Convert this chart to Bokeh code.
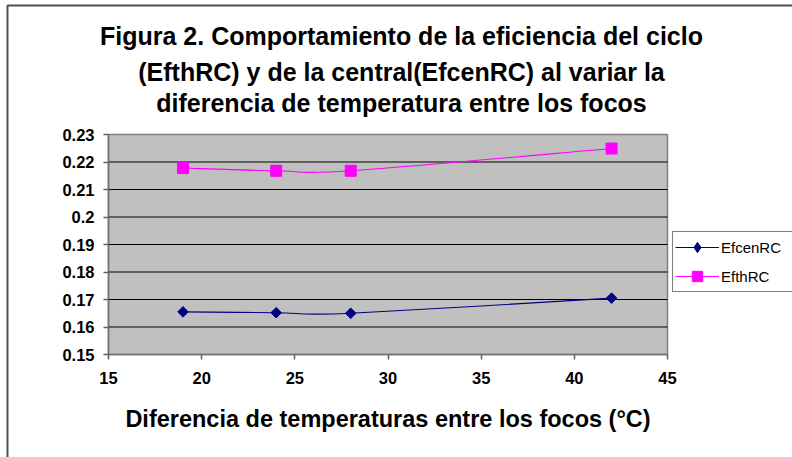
from bokeh.plotting import figure
from bokeh.models import (Range1d, FixedTicker, Label, Legend, LegendItem,
                          BoxAnnotation)
from bokeh.embed import file_html
from bokeh.resources import INLINE

# Temperature difference between the hot and cold sources (°C)
delta_t = [19, 24, 28, 42]
# Plant efficiency and cycle efficiency
efcen_rc = [0.1655, 0.1652, 0.1650, 0.1705]
efth_rc = [0.2178, 0.2168, 0.2168, 0.2249]

x_ticks = [15, 20, 25, 30, 35, 40, 45]
y_ticks = [0.15, 0.16, 0.17, 0.18, 0.19, 0.2, 0.21, 0.22, 0.23]
y_tick_labels = ["0.15", "0.16", "0.17", "0.18", "0.19", "0.2", "0.21", "0.22", "0.23"]

title_lines = [
    "Figura 2. Comportamiento de la eficiencia del ciclo",
    "(EfthRC) y de la central(EfcenRC) al variar la",
    "diferencia de temperatura entre los focos",
]
x_title = "Diferencia de temperaturas entre los focos (°C)"

FONT = "Liberation Sans"

# Canvas size and the pixel box of the plotting area inside it
W, H = 792, 457
AREA_L, AREA_R, AREA_T, AREA_B = 108, 667, 134, 354
x_lo, x_hi = x_ticks[0], x_ticks[-1]
y_lo, y_hi = y_ticks[0], y_ticks[-1]

# The frame covers the whole canvas; ranges are widened so the plotting
# area lands on its pixel box and everything else can be drawn around it.
ppx = (AREA_R - AREA_L) / (x_hi - x_lo)
ppy = (AREA_B - AREA_T) / (y_hi - y_lo)
x_range = Range1d(x_lo - AREA_L / ppx, x_hi + (W - AREA_R) / ppx)
y_range = Range1d(y_lo - (H - AREA_B) / ppy, y_hi + AREA_T / ppy)

p = figure(width=W, height=H, output_backend="svg", toolbar_location=None,
           x_range=x_range, y_range=y_range,
           min_border=0, min_border_left=0, min_border_right=0,
           min_border_top=0, min_border_bottom=0)
p.background_fill_color = "white"
p.border_fill_color = "white"
p.outline_line_color = None
p.xgrid.visible = False
p.ygrid.visible = False

# Grey plotting area with its thin border
p.add_layout(BoxAnnotation(left=x_lo, right=x_hi, bottom=y_lo, top=y_hi,
                           fill_color="#C0C0C0", fill_alpha=1,
                           line_color="#808080", line_alpha=1, line_width=1.5,
                           level="underlay"))

# Horizontal grid lines at the inner ticks
inner = y_ticks[1:-1]
p.segment(x0=[x_lo] * len(inner), x1=[x_hi] * len(inner), y0=inner, y1=inner,
          line_color="black", line_width=1)

# Axes pinned to the plotting area's edges
for ax in (p.xaxis[0], p.yaxis[0]):
    ax.axis_line_color = "#707070"
    ax.axis_line_width = 1.5
    ax.major_tick_line_color = "#606060"
    ax.major_tick_line_width = 1.5
    ax.major_tick_out = 5
    ax.major_tick_in = 0
    ax.minor_tick_line_color = None
    ax.major_label_text_font = FONT
    ax.major_label_text_font_style = "bold"
    ax.major_label_text_font_size = "16.5px"
    ax.major_label_text_color = "black"

p.xaxis.fixed_location = y_lo
p.xaxis.bounds = (x_lo, x_hi)
p.xaxis.ticker = FixedTicker(ticks=x_ticks)
p.xaxis.major_label_standoff = 12
p.xaxis.axis_label = x_title
p.xaxis.axis_label_text_font = FONT
p.xaxis.axis_label_text_font_style = "bold"
p.xaxis.axis_label_text_font_size = "23.5px"
p.xaxis.axis_label_text_color = "black"
p.xaxis.axis_label_standoff = 19

p.yaxis.fixed_location = x_lo
p.yaxis.bounds = (y_lo, y_hi)
p.yaxis.ticker = FixedTicker(ticks=y_ticks)
p.yaxis.major_label_overrides = {t: s for t, s in zip(y_ticks, y_tick_labels)}
p.yaxis.major_label_standoff = 9


def smooth_segments(xs, ys):
    """Cubic Bezier pieces through the points (Catmull-Rom style smoothing)."""
    n = len(xs)
    seg = dict(x0=[], y0=[], x1=[], y1=[], cx0=[], cy0=[], cx1=[], cy1=[])
    for i in range(n - 1):
        xp, yp = (xs[i - 1], ys[i - 1]) if i > 0 else (xs[i], ys[i])
        xn, yn = (xs[i + 2], ys[i + 2]) if i + 2 < n else (xs[i + 1], ys[i + 1])
        seg["x0"].append(xs[i]); seg["y0"].append(ys[i])
        seg["x1"].append(xs[i + 1]); seg["y1"].append(ys[i + 1])
        seg["cx0"].append(xs[i] + (xs[i + 1] - xp) / 6)
        seg["cy0"].append(ys[i] + (ys[i + 1] - yp) / 6)
        seg["cx1"].append(xs[i + 1] - (xn - xs[i]) / 6)
        seg["cy1"].append(ys[i + 1] - (yn - ys[i]) / 6)
    return seg


cen_line = p.bezier(**smooth_segments(delta_t, efcen_rc), line_color="#000080",
                    line_width=1.1)
# zero-size diamonds: invisible in the plot, used only as the legend swatch
# (legend swatches are never rotated and take their size from the legend)
cen_key = p.scatter(delta_t, efcen_rc, marker="diamond", size=0,
                    fill_color="#000080", line_color="#000080")
cen_pts = p.scatter(delta_t, efcen_rc, marker="square", angle=0.785398, size=7.5,
                    fill_color="#000080", line_color="#000080")

th_line = p.bezier(**smooth_segments(delta_t, efth_rc), line_color="#FF00FF",
                   line_width=1.1)
th_pts = p.scatter(delta_t, efth_rc, marker="square", size=11,
                   fill_color="#FF00FF", line_color="#FF00FF")

legend = Legend(items=[
    LegendItem(label="EfcenRC", renderers=[cen_line, cen_key]),
    LegendItem(label="EfthRC", renderers=[th_line, th_pts]),
], location=(672, H - 292))
legend.border_line_color = "black"
legend.border_line_width = 1
legend.background_fill_color = "white"
legend.background_fill_alpha = 1
legend.label_text_font = FONT
legend.label_text_font_size = "15px"
legend.label_text_color = "black"
legend.glyph_width = 44
legend.glyph_height = 26
legend.label_height = 26
legend.label_width = 72
legend.label_standoff = 2
legend.padding = 2
legend.spacing = 3
legend.margin = 0
p.add_layout(legend)

# Three-line centred title (screen units from the lower-left corner)
for text, base in zip(title_lines, [35, 71, 102]):
    p.add_layout(Label(x=401, y=H - base, x_units="screen", y_units="screen",
                       text=text, text_align="center", text_baseline="alphabetic",
                       text_font=FONT, text_font_style="bold",
                       text_font_size="25px", text_color="black"))

# Dark border of the chart area along its top and left sides
p.add_layout(BoxAnnotation(left=7, right=W + 50, top=H - 5, bottom=-50,
                           left_units="screen", right_units="screen",
                           top_units="screen", bottom_units="screen",
                           fill_alpha=0, line_color="#505050", line_alpha=1,
                           line_width=2, level="overlay"))

open("out.html", "w").write(file_html(p, INLINE))
